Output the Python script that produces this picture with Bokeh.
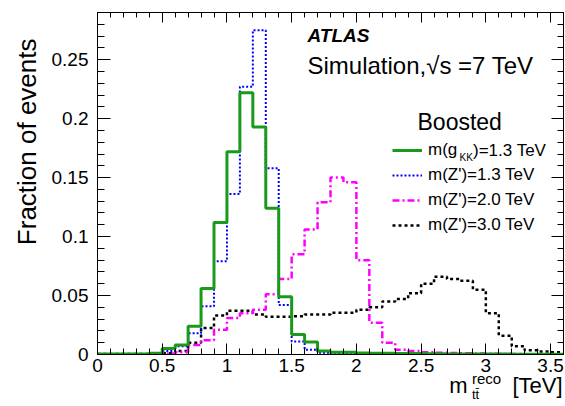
import numpy as np
from bokeh.plotting import figure
from bokeh.models import Range1d, FixedTicker, LinearAxis, Label, Legend, LegendItem, Title
from bokeh.embed import file_html
from bokeh.resources import INLINE

# ---------------- data (fraction of events per 0.1 TeV bin, 0 - 3.6 TeV) ----------------
bin_width = 0.1
n_bins = 36
gkk_13 = [0.0005, 0.0005, 0.0005, 0.0005, 0.001, 0.005, 0.008, 0.024, 0.056, 0.112,
          0.172, 0.222, 0.193, 0.124, 0.049, 0.017, 0.0105, 0.003, 0.002, 0.002,
          0.0012, 0.001, 0.001, 0.0008, 0.0008, 0.0006, 0.0006, 0.0005, 0.0005, 0.0005,
          0.0004, 0.0004, 0.0003, 0.0003, 0.0003, 0.0003]
zp_13 = [0.0003, 0.0003, 0.0003, 0.0003, 0.0008, 0.003, 0.007, 0.018, 0.041, 0.079,
         0.136, 0.227, 0.275, 0.158, 0.042, 0.011, 0.004, 0.0015, 0.0008, 0.0005,
         0.0004, 0.0003, 0.0003, 0.0002, 0.0002, 0.0002, 0.0002, 0.0001, 0.0001, 0.0001,
         0.0001, 0.0001, 0.0001, 0.0001, 0.0001, 0.0001]
zp_20 = [0.0002, 0.0002, 0.0002, 0.0002, 0.0003, 0.0008, 0.002, 0.008, 0.012, 0.021,
         0.031, 0.035, 0.038, 0.051, 0.064, 0.085, 0.106, 0.129, 0.150, 0.146,
         0.080, 0.027, 0.010, 0.004, 0.003, 0.002, 0.0015, 0.0012, 0.001, 0.0008,
         0.0006, 0.0005, 0.0004, 0.0003, 0.0003, 0.0002]
zp_30 = [0.0005, 0.0005, 0.0005, 0.0005, 0.0006, 0.001, 0.003, 0.010, 0.0225, 0.033,
         0.037, 0.037, 0.034, 0.032, 0.032, 0.0325, 0.034, 0.034, 0.0355, 0.0355,
         0.038, 0.040, 0.045, 0.047, 0.052, 0.060, 0.066, 0.064, 0.0625, 0.055,
         0.035, 0.016, 0.007, 0.0035, 0.0025, 0.002]

x_ticks = [0, 0.5, 1, 1.5, 2, 2.5, 3, 3.5]
x_tick_labels = ["0", "0.5", "1", "1.5", "2", "2.5", "3", "3.5"]
y_ticks = [0, 0.05, 0.1, 0.15, 0.2, 0.25]
y_tick_labels = ["0", "0.05", "0.1", "0.15", "0.2", "0.25"]

series_labels = ["m(g", "m(Z')=1.3 TeV", "m(Z')=2.0 TeV", "m(Z')=3.0 TeV"]

# ---------------- figure ----------------
FONT = "Liberation Sans"
edges = np.round(np.arange(n_bins + 1) * bin_width, 3)
X0, X1, Y0, Y1 = 0.0, 3.6, 0.0, 0.29
FL, FR, FT, FB = 97, 563, 12, 354          # frame edges in page pixels

p = figure(width=565, height=406, x_range=Range1d(X0, X1), y_range=Range1d(Y0, Y1),
           x_axis_type=None, y_axis_type=None,
           output_backend="svg", toolbar_location=None,
           min_border_left=FL, min_border_right=565 - FR, min_border_top=FT,
           min_border_bottom=406 - FB)
p.xgrid.visible = False
p.ygrid.visible = False
p.outline_line_color = "black"
p.outline_line_width = 1
p.background_fill_color = "white"
p.border_fill_color = "white"

x_minor = list(np.round(np.arange(0, 37) * 0.1, 3))
y_minor = list(np.round(np.arange(0, 30) * 0.01, 3))


def px_to_x(px):
    return round(X0 + (px - FL) * (X1 - X0) / (FR - FL), 4)


def tick_axis(ticks, minor, labels, tin, tmin):
    return LinearAxis(ticker=FixedTicker(ticks=ticks, minor_ticks=minor),
                      axis_line_color="black", axis_line_width=1,
                      major_tick_in=tin, major_tick_out=0,
                      minor_tick_in=tmin, minor_tick_out=0,
                      major_tick_line_color="black", minor_tick_line_color="black",
                      major_tick_line_width=1, minor_tick_line_width=1,
                      major_label_overrides={t: l for t, l in zip(ticks, labels)},
                      major_label_text_font=FONT, major_label_text_font_size="19px",
                      major_label_text_color="black")


def mirror_axis(positions, length):
    # ticks only (drawn as "minor" ticks so that no labels are produced)
    return LinearAxis(ticker=FixedTicker(ticks=[], minor_ticks=positions),
                      axis_line_color="black", axis_line_width=1,
                      major_tick_in=0, major_tick_out=0,
                      minor_tick_in=length, minor_tick_out=0,
                      minor_tick_line_color="black", minor_tick_line_width=1,
                      major_label_standoff=0)


def title_axis(texts, centers_px, size, standoff):
    # a bare axis row used only to write pieces of the x-axis title
    pos = [px_to_x(c) for c in centers_px]
    return LinearAxis(ticker=FixedTicker(ticks=pos, minor_ticks=[]),
                      major_label_overrides=dict(zip(pos, texts)),
                      axis_line_color=None, major_tick_line_color=None,
                      minor_tick_line_color=None,
                      major_tick_in=0, major_tick_out=0, minor_tick_in=0, minor_tick_out=0,
                      major_label_standoff=standoff, major_label_text_font=FONT,
                      major_label_text_font_size=size, major_label_text_color="black")


xb = tick_axis(x_ticks, x_minor, x_tick_labels, 11, 6)
xb.major_label_standoff = 4
yl = tick_axis(y_ticks, y_minor, y_tick_labels, 13, 7)
yl.major_label_standoff = 9
p.add_layout(xb, "below")
p.add_layout(yl, "left")
p.add_layout(mirror_axis(x_ticks, 10), "above")
p.add_layout(mirror_axis(x_minor, 5), "above")
p.add_layout(mirror_axis(y_ticks, 12), "right")
p.add_layout(mirror_axis(y_minor, 6), "right")

# x axis title  m_{t tbar}^{reco} [TeV]  written on stacked label-only rows
p.add_layout(title_axis(["reco"], [486], "15px", -5), "below")
p.add_layout(title_axis(["m", "[TeV]"], [458, 537], "22px", -17), "below")
p.add_layout(title_axis(["tt\u0304"], [475], "13px", -14), "below")

# y axis title, aligned towards the top of the frame
p.add_layout(Title(text="Fraction of events", align="right", offset=26,
                   text_font=FONT, text_font_size="26px", text_font_style="normal",
                   text_color="black", standoff=14), "left")

# ---------------- histograms ----------------
def stepped(vals):
    return list(vals) + [vals[-1]]

r_black = p.step(x=edges, y=stepped(zp_30), mode="after", line_color="black",
                 line_width=2.5, line_dash="3 3")
r_mag = p.step(x=edges, y=stepped(zp_20), mode="after", line_color="#ff00ff",
               line_width=2.5, line_dash="7 3 2 3")
r_blue = p.step(x=edges, y=stepped(zp_13), mode="after", line_color="#0000ff",
                line_width=2, line_dash="2 2")
r_green = p.step(x=edges, y=stepped(gkk_13), mode="after", line_color="#1a9a1a",
                 line_width=3)

legend = Legend(items=[LegendItem(label=series_labels[0], renderers=[r_green]),
                       LegendItem(label=series_labels[1], renderers=[r_blue]),
                       LegendItem(label=series_labels[2], renderers=[r_mag]),
                       LegendItem(label=series_labels[3], renderers=[r_black])],
                location=(295, 119), orientation="vertical",
                glyph_width=30, glyph_height=20, label_height=20, label_standoff=6,
                spacing=5, padding=0, margin=0,
                background_fill_alpha=0, border_line_alpha=0,
                label_text_font=FONT, label_text_font_size="17px", label_text_color="black")
p.add_layout(legend)

# ---------------- texts inside the frame (screen units from the frame's bottom-left) ----------------
def lab(text, x, y, size, style="normal", baseline="alphabetic"):
    p.add_layout(Label(text=text, x=x, y=y, x_units="screen", y_units="screen",
                       text_font=FONT, text_font_size=size, text_font_style=style,
                       text_align="left", text_baseline=baseline, text_color="black"))

lab("KK", 362, 197, "10px", baseline="middle")
lab(")=1.3 TeV", 375.5, 204, "17px", baseline="middle")
lab("ATLAS", 210, 319, "19px", style="bold italic")
lab("Simulation,\u221as =7 TeV", 210, 289, "24px")
lab("Boosted", 320, 232.5, "23px")

open("out.html", "w").write(file_html(p, INLINE))
